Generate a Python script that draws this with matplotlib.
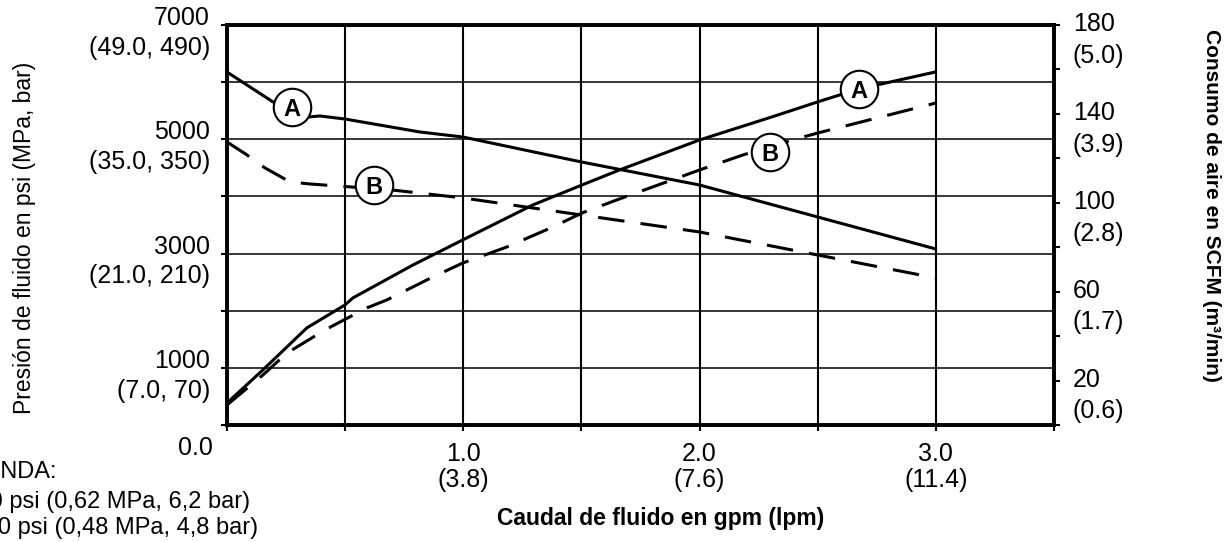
import numpy as np
import matplotlib
matplotlib.use("Agg")
import matplotlib.pyplot as plt

plt.rcParams['font.family'] = ['Liberation Sans', 'DejaVu Sans']

# ---------------- data ----------------
# Fluid flow (gpm) vs fluid pressure (psi)
press_a_gpm = [0.0, 0.195, 0.343, 0.393, 0.499, 0.816, 0.998, 1.5, 2.0, 2.5, 3.0]
press_a_psi = [6177, 5653, 5390, 5408, 5355, 5128, 5040, 4603, 4200, 3640, 3080]

press_b_gpm = [0.0, 0.085, 0.161, 0.267, 0.351, 0.698, 1.0, 1.5, 2.0, 2.5, 3.0]
press_b_psi = [4953, 4725, 4498, 4253, 4218, 4113, 3973, 3675, 3378, 2975, 2573]

# Fluid flow (gpm) vs air consumption (SCFM)
air_a_gpm = [0.0, 0.152, 0.338, 0.499, 0.533, 0.787, 0.998, 1.294, 1.502, 1.662,
             2.001, 2.305, 2.5, 2.673, 3.0]
air_a_scfm = [9.9, 24.8, 43.7, 54.0, 57.2, 72.0, 83.3, 99.0, 108.0, 114.8,
              128.3, 138.6, 145.4, 151.2, 158.9]

air_b_gpm = [0.0, 0.152, 0.254, 0.415, 0.592, 0.677, 0.871, 0.998, 1.184, 1.379,
             1.502, 1.650, 2.001, 2.183, 2.394, 2.5, 3.0]
air_b_scfm = [9.0, 22.5, 32.4, 42.8, 52.7, 56.3, 66.6, 72.9, 80.1, 89.1,
              95.4, 101.3, 114.8, 121.5, 128.3, 131.4, 144.9]

# curve tags (letter, x in gpm, y in axis units)
press_tags = [("A", 0.275, 5565), ("B", 0.622, 4200)]
air_tags = [("A", 2.673, 151.2), ("B", 2.297, 122.9)]

# tick labels
x_ticks = [0.0, 0.5, 1.0, 1.5, 2.0, 2.5, 3.0, 3.5]
x_label_vals = [1.0, 2.0, 3.0]
x_labels = ["1.0\n(3.8)", "2.0\n(7.6)", "3.0\n(11.4)"]
left_ticks = [0, 1000, 2000, 3000, 4000, 5000, 6000, 7000]
left_label_vals = [7000, 5000, 3000, 1000]
left_labels = ["7000\n(49.0, 490)", "5000\n(35.0, 350)", "3000\n(21.0, 210)", "1000\n(7.0, 70)"]
right_ticks = [0, 20, 40, 60, 80, 100, 120, 140, 160, 180]
right_label_vals = [180, 140, 100, 60, 20]
right_labels = ["180\n(5.0)", "140\n(3.9)", "100\n(2.8)", "60\n(1.7)", "20\n(0.6)"]

legend_lines = ["LEYENDA:",
                "A = 90 psi (0,62 MPa, 6,2 bar)",
                "B = 70 psi (0,48 MPa, 4,8 bar)"]

# ---------------- figure ----------------
W, H = 1227, 542
fig = plt.figure(figsize=(W / 100, H / 100), dpi=100)
ax = fig.add_axes([227 / W, 1 - 425 / H, (1054 - 227) / W, 400 / H])
ax2 = ax.twinx()

ax.set_xlim(0, 3.5)
ax.set_ylim(0, 7000)
ax2.set_ylim(0, 180)

FS = 18
LW = 2.2

# grid
ax.set_xticks(x_ticks)
ax.set_yticks(left_ticks)
ax2.set_yticks(right_ticks)
ax.set_xticklabels([])
ax.set_yticklabels([])
ax2.set_yticklabels([])
ax.grid(axis='x', color='black', lw=1.5)
ax.grid(axis='y', color='black', lw=1.1)
ax.set_axisbelow(True)

for a in (ax, ax2):
    for s in a.spines.values():
        s.set_linewidth(2.6)
ax.tick_params(axis='both', direction='out', length=4, width=1.5, color='black')
ax2.tick_params(axis='y', direction='out', length=4, width=1.5, color='black')

# curves
ax.plot(press_a_gpm, press_a_psi, color='black', lw=LW, solid_capstyle='butt', zorder=3)
ax.plot(press_b_gpm, press_b_psi, color='black', lw=LW, dashes=(8.7, 5.3), zorder=3)
ax2.plot(air_a_gpm, air_a_scfm, color='black', lw=LW, solid_capstyle='butt', zorder=3)
ax2.plot(air_b_gpm, air_b_scfm, color='black', lw=LW, dashes=(8.7, 5.3), zorder=3)

# tags
for a, tags in ((ax, press_tags), (ax2, air_tags)):
    for letter, x, y in tags:
        a.plot([x], [y], 'o', ms=27, mfc='white', mec='black', mew=1.5, zorder=5)
        a.text(x, y, letter, ha='center', va='center_baseline', fontsize=17,
               fontweight='bold', zorder=6)

# tick labels as annotations
for v, lab in zip(left_label_vals, left_labels):
    ax.annotate(lab, xy=(0, v), xycoords=('axes fraction', 'data'),
                xytext=(-17, -8), textcoords='offset pixels', ha='right', va='center',
                multialignment='right', fontsize=FS, linespacing=1.3)
ax.annotate("0.0", xy=(0, 0), xycoords=('axes fraction', 'data'),
            xytext=(-14, -23), textcoords='offset pixels', ha='right', va='center',
            fontsize=FS)
for v, lab in zip(right_label_vals, right_labels):
    ax2.annotate(lab, xy=(1, v), xycoords=('axes fraction', 'data'),
                 xytext=(19, -15), textcoords='offset pixels', ha='left', va='center',
                 multialignment='left', fontsize=FS, linespacing=1.4)
for v, lab in zip(x_label_vals, x_labels):
    ax.annotate(lab, xy=(v, 0), xycoords=('data', 'axes fraction'),
                xytext=(0, -17), textcoords='offset pixels', ha='center', va='top',
                multialignment='center', fontsize=FS, linespacing=1.1)

# axis titles
fig.text(661 / W, 1 - 518 / H, "Caudal de fluido en gpm (lpm)", ha='center', va='center',
         fontsize=16.5, fontweight='bold')
fig.text(25 / W, 1 - 238 / H, "Presión de fluido en psi (MPa, bar)", ha='center',
         va='center', rotation=90, fontsize=16.5)
fig.text(1211 / W, 1 - 205 / H, "Consumo de aire en SCFM (m³/min)", ha='center',
         va='center', rotation=-90, fontsize=15, fontweight='bold')

# legend text (partially cut at the left edge, as in the original)
for (txt, xr, yc) in zip(legend_lines, [57, 250, 258], [472, 502, 528]):
    fig.text(xr / W, 1 - yc / H, txt, ha='right', va='center', fontsize=17)

fig.savefig("out.png", dpi=100)
